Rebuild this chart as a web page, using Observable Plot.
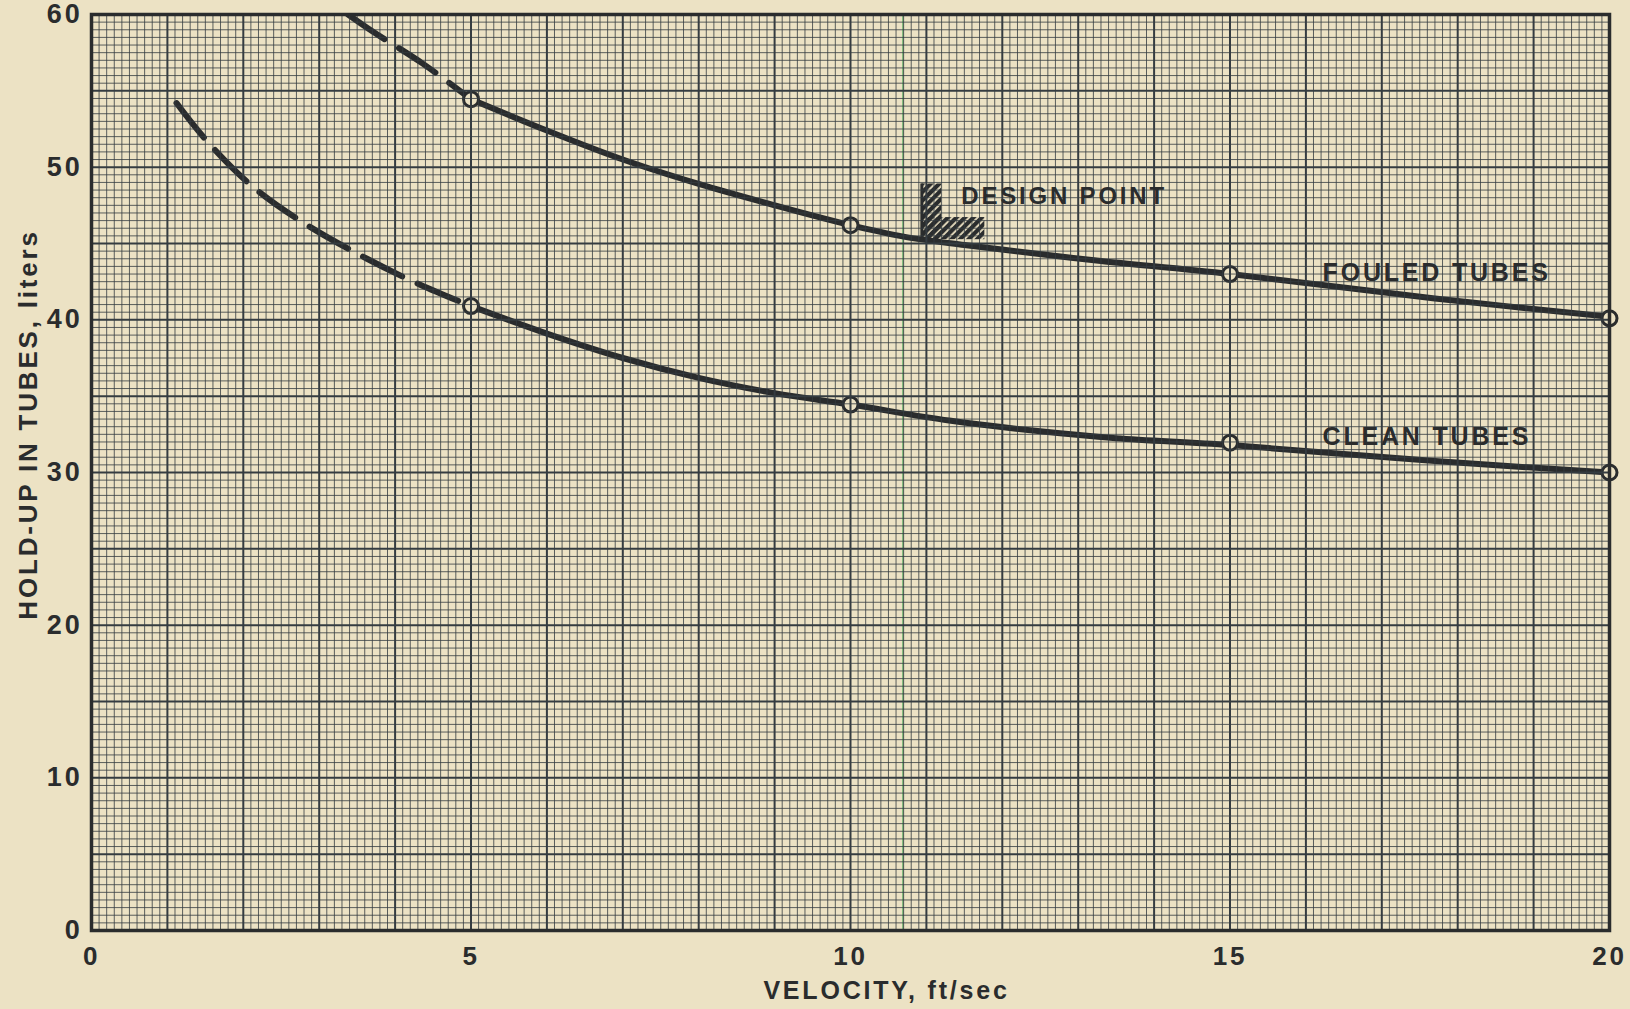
<!DOCTYPE html>
<html><head><meta charset="utf-8">
<script src="https://cdn.jsdelivr.net/npm/d3@7"></script>
<script src="https://cdn.jsdelivr.net/npm/@observablehq/plot@0.6"></script>
<style>
html,body{margin:0;padding:0;background:#ece2c4;}
#chart svg{display:block;}
#chart svg text{letter-spacing:2.8px;}
</style></head><body><div id="chart"></div>
<script>
const paper = "#ece2c4";
const ink = "#2a2c2d";
const gridInk = "#353c41";

// axis ticks
const velocityTicks = [0, 5, 10, 15, 20];
const holdupTicks = [0, 10, 20, 30, 40, 50, 60];

// measured points (circles)
const measuredVelocity = [5, 10, 15, 20];
const fouledMeasured = [54.45, 46.2, 43.0, 40.1];
const cleanMeasured = [40.9, 34.45, 31.95, 30.0];

// curves
const fouledDashedX = [3.38, 3.7, 4.36, 5];
const fouledDashedY = [60, 58.9, 56.8, 54.45];
const fouledSolidX = [5, 6, 7, 8, 9, 10, 10.7, 11.5, 12.6, 13.3, 15, 17.7, 20];
const fouledSolidY = [54.45, 52.4, 50.5, 48.9, 47.5, 46.2, 45.45, 44.9, 44.25, 43.85, 43.0, 41.4, 40.2];
const cleanDashedX = [1.12, 1.54, 2.13, 2.81, 3.63, 4.33, 5];
const cleanDashedY = [54.2, 51.6, 48.7, 46.3, 44.0, 42.3, 40.9];
const cleanSolidX = [5, 6, 7, 8, 9, 10, 11.3, 12.5, 13.5, 15, 17.7, 20];
const cleanSolidY = [40.9, 39.1, 37.5, 36.2, 35.2, 34.45, 33.4, 32.7, 32.25, 31.8, 30.75, 30.0];

// design point marker (data units)
const designX = [10.94];
const designY = [45.25];
const designTop = [48.9];
const designLegX2 = [11.2];
const designRight = [11.77];
const designLegY2 = [46.7];

// faint green scan line
const greenRuleX = [10.69];

// annotations
const annotationText = ["DESIGN POINT", "FOULED TUBES", "CLEAN TUBES"];
const annotationX = [11.46, 16.22, 16.22];
const annotationY = [48.06, 43.1, 32.3];
const annotationSize = [24, 25, 25];

// graph paper rulings
const majorX = d3.range(0, 21);
const fineX = d3.range(0, 201).filter(i => i % 10 !== 0).map(i => i / 10);
const majorY = d3.range(0, 61, 5);
const fineY = d3.range(0, 121).filter(i => i % 10 !== 0).map(i => i / 2);

const toRows = (xs, ys) => xs.map((x, i) => ({x, y: ys[i]}));
const fouledDashed = toRows(fouledDashedX, fouledDashedY);
const fouledSolid = toRows(fouledSolidX, fouledSolidY);
const cleanDashed = toRows(cleanDashedX, cleanDashedY);
const cleanSolid = toRows(cleanSolidX, cleanSolidY);
const measured = [
  ...toRows(measuredVelocity, fouledMeasured),
  ...toRows(measuredVelocity, cleanMeasured)
];
const design = designX.map((x, i) => ({x, y: designY[i], top: designTop[i], legX2: designLegX2[i], right: designRight[i], legY2: designLegY2[i]}));
const annotations = annotationText.map((t, i) => ({t, x: annotationX[i], y: annotationY[i], s: annotationSize[i]}));

const font = "'Liberation Sans', Arial, sans-serif";
const lineW = 6;

const chart = Plot.plot({
  width: 1630,
  height: 1009,
  marginLeft: 91,
  marginRight: 21,
  marginTop: 14,
  marginBottom: 79,
  style: {background: paper, color: ink, fontFamily: font},
  x: {domain: [0, 20]},
  y: {domain: [0, 60]},
  marks: [
    Plot.ruleX(greenRuleX, {stroke: "#3a9f4a", strokeWidth: 1.4, strokeOpacity: 0.7}),
    Plot.line(cleanDashed, {x: "x", y: "y", curve: "catmull-rom", stroke: ink, strokeWidth: lineW, strokeLinecap: "round", strokeDasharray: "44,17", clip: true}),
    Plot.line(fouledDashed, {x: "x", y: "y", curve: "catmull-rom", stroke: ink, strokeWidth: lineW, strokeLinecap: "round", strokeDasharray: "44,17", clip: true}),
    Plot.line(cleanSolid, {x: "x", y: "y", curve: "catmull-rom", stroke: ink, strokeWidth: lineW, strokeLinecap: "round"}),
    Plot.line(fouledSolid, {x: "x", y: "y", curve: "catmull-rom", stroke: ink, strokeWidth: lineW, strokeLinecap: "round"}),
    Plot.rect(design, {x1: "x", x2: "legX2", y1: "y", y2: "top", fill: "url(#hatch)"}),
    Plot.rect(design, {x1: "x", x2: "right", y1: "y", y2: "legY2", fill: "url(#hatch)"}),
    Plot.ruleX(design, {x: "x", y1: "y", y2: "top", stroke: ink, strokeWidth: 3}),
    Plot.dot(measured, {x: "x", y: "y", r: 7.5, fill: paper, stroke: ink, strokeWidth: 3}),
    Plot.ruleX(fineX, {stroke: gridInk, strokeWidth: 1, strokeOpacity: 0.8}),
    Plot.ruleY(fineY, {stroke: gridInk, strokeWidth: 1, strokeOpacity: 0.8}),
    Plot.ruleX(majorX, {stroke: gridInk, strokeWidth: 2}),
    Plot.ruleY(majorY, {stroke: gridInk, strokeWidth: 2}),
    Plot.frame({stroke: ink, strokeWidth: 3.5}),
    Plot.text(annotations, {x: "x", y: "y", text: "t", fontSize: "s", textAnchor: "start", fontWeight: "bold", fill: ink}),
    Plot.axisX(velocityTicks, {tickSize: 0, tickPadding: 16, fontSize: 26, fontWeight: "bold", label: null}),
    Plot.axisY(holdupTicks, {anchor: "left", tickSize: 0, tickPadding: 9, fontSize: 27, fontWeight: "bold", label: null}),
    Plot.text(["VELOCITY, ft/sec"], {frameAnchor: "bottom", textAnchor: "middle", lineAnchor: "middle", dx: 36, dy: 60, fontSize: 25, fontWeight: "bold", fill: ink}),
    Plot.text(["HOLD-UP IN TUBES, liters"], {frameAnchor: "left", textAnchor: "middle", lineAnchor: "middle", dx: -63, dy: -48, rotate: -90, fontSize: 26, fontWeight: "bold", fill: ink})
  ]
});

// hatch pattern for the design point marker
const NS = "http://www.w3.org/2000/svg";
const defs = document.createElementNS(NS, "defs");
const pat = document.createElementNS(NS, "pattern");
pat.setAttribute("id", "hatch");
pat.setAttribute("patternUnits", "userSpaceOnUse");
pat.setAttribute("width", "6");
pat.setAttribute("height", "6");
pat.setAttribute("patternTransform", "rotate(45)");
const bar = document.createElementNS(NS, "rect");
bar.setAttribute("x", "0");
bar.setAttribute("y", "0");
bar.setAttribute("width", "4.2");
bar.setAttribute("height", "6");
bar.setAttribute("fill", ink);
pat.appendChild(bar);
defs.appendChild(pat);
chart.insertBefore(defs, chart.firstChild);

document.getElementById("chart").append(chart);
</script>
</body></html>
